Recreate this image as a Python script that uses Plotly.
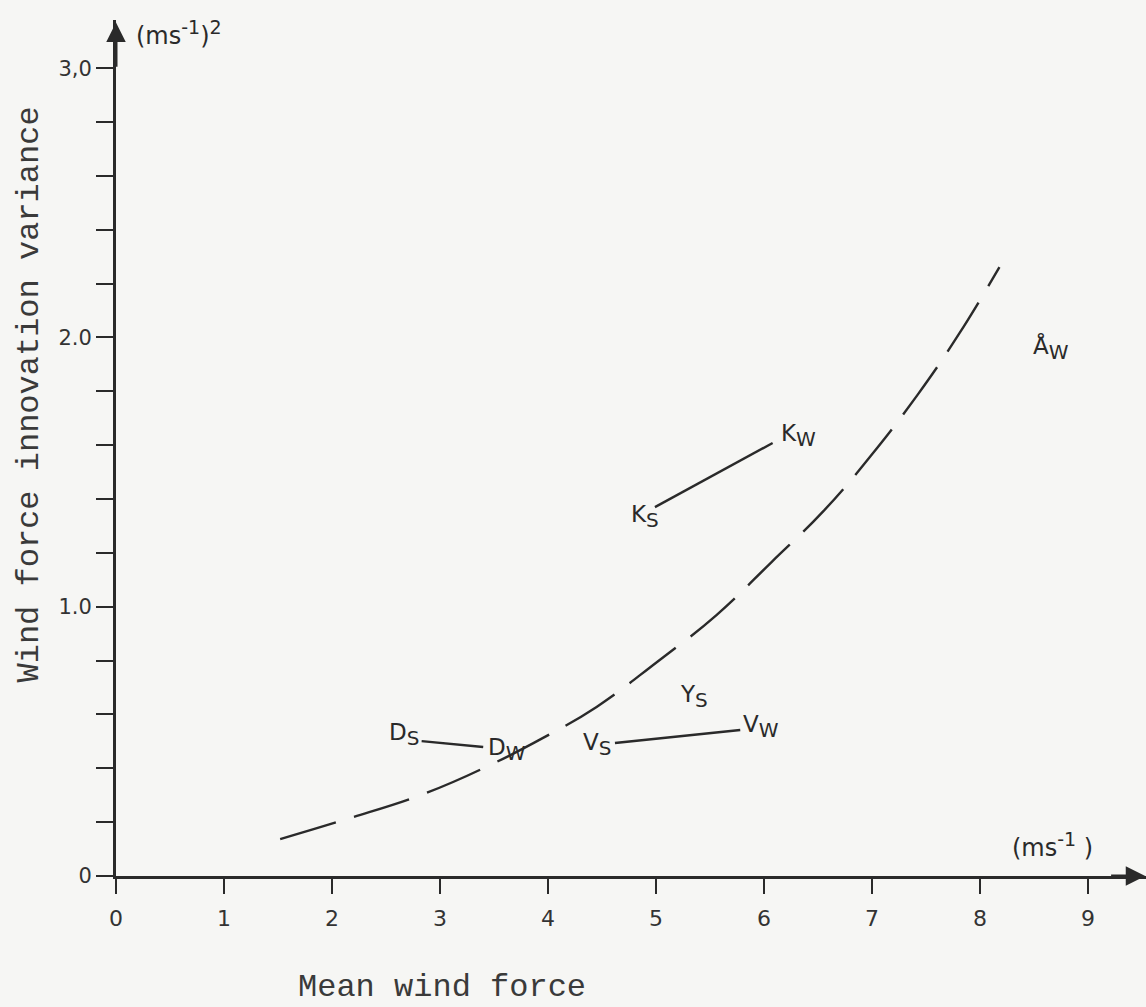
import plotly.graph_objects as go

# ---- data ----
curve_x = [1.52, 2.14, 2.87, 3.52, 3.95, 4.45, 5.01, 5.56, 6.07, 6.55, 6.98, 7.42, 7.81, 8.18]
curve_y = [0.137, 0.212, 0.308, 0.423, 0.512, 0.628, 0.795, 0.969, 1.166, 1.355, 1.556, 1.786, 2.016, 2.261]

# station pairs (summer -> winter) connecting segments
d_seg_x = [2.83, 3.40]
d_seg_y = [0.501, 0.479]
v_seg_x = [4.62, 5.78]
v_seg_y = [0.494, 0.542]
k_seg_x = [4.99, 6.08]
k_seg_y = [1.370, 1.608]

# labels
label_main = ["D", "D", "V", "V", "Y", "K", "K", "Å"]
label_sub = ["S", "W", "S", "W", "S", "S", "W", "W"]
label_x = [2.67, 3.62, 4.45, 5.97, 5.35, 4.90, 6.32, 8.66]
label_y = [0.525, 0.470, 0.488, 0.555, 0.667, 1.335, 1.636, 1.96]

x_ticks = [0, 1, 2, 3, 4, 5, 6, 7, 8, 9]
x_tick_labels = ["0", "1", "2", "3", "4", "5", "6", "7", "8", "9"]
y_ticks = [round(0.2 * i, 1) for i in range(16)]
y_tick_labels = {0.0: "0", 1.0: "1.0", 2.0: "2.0", 3.0: "3,0"}

ink = "#2a2a2a"
bg = "#f6f6f4"

fig = go.Figure()

fig.add_trace(go.Scatter(
    x=curve_x, y=curve_y, mode="lines",
    line=dict(color=ink, width=2.4, dash="58px,19px", shape="spline", smoothing=1.2),
    hoverinfo="skip", showlegend=False))

for sx, sy in [(d_seg_x, d_seg_y), (v_seg_x, v_seg_y), (k_seg_x, k_seg_y)]:
    fig.add_trace(go.Scatter(x=sx, y=sy, mode="lines",
                             line=dict(color=ink, width=2.4),
                             hoverinfo="skip", showlegend=False))

lab_font = dict(family="DejaVu Sans", size=23, color=ink)
for m, s, lx, ly in zip(label_main, label_sub, label_x, label_y):
    fig.add_annotation(
        x=lx, y=ly, xref="x", yref="y", showarrow=False,
        text=f"{m}<sub><span style='font-size:20px'>{s}</span></sub>",
        font=lab_font, xanchor="center", yanchor="middle")

# units
unit_font = dict(family="DejaVu Sans", size=24, color=ink)
fig.add_annotation(x=0.17, y=3.13, xref="x", yref="y", showarrow=False,
                   text="(ms<sup><span style='font-size:19px'>-1</span></sup>)<sup><span style='font-size:19px'>2</span></sup>",
                   xanchor="left", yanchor="middle", font=unit_font)
fig.add_annotation(x=8.28, y=0.115, xref="x", yref="y", showarrow=False,
                   text="(ms<sup><span style='font-size:19px'>-1</span></sup> )",
                   xanchor="left", yanchor="middle", font=unit_font)

# axis titles
fig.add_annotation(x=1.67, y=-0.13, xref="x", yref="paper", showarrow=False,
                   text="Mean wind force", xanchor="left", yanchor="middle",
                   font=dict(family="Liberation Mono", size=32, color="#3a3a3a"))
fig.add_annotation(x=-0.084, y=1.79, xref="paper", yref="y", showarrow=False,
                   text="Wind force innovation variance", textangle=-90,
                   xanchor="center", yanchor="middle",
                   font=dict(family="Liberation Mono", size=32, color="#3a3a3a"))

# axis arrows
fig.add_annotation(x=0, y=3.17, ax=0, ay=3.0, xref="x", yref="y", axref="x", ayref="y",
                   showarrow=True, arrowhead=2, arrowsize=1.3, arrowwidth=3, arrowcolor=ink, text="")
fig.add_annotation(x=9.53, y=0, ax=9.2, ay=0, xref="x", yref="y", axref="x", ayref="y",
                   showarrow=True, arrowhead=2, arrowsize=1.3, arrowwidth=3, arrowcolor=ink, text="")

fig.update_xaxes(
    range=[0, 9.537], showgrid=False, zeroline=False,
    showline=True, linecolor=ink, linewidth=3,
    ticks="outside", ticklen=15, tickwidth=2, tickcolor=ink,
    tickvals=x_ticks, ticktext=x_tick_labels, ticklabelstandoff=6,
    tickfont=dict(family="DejaVu Sans", size=22, color="#333"))
fig.update_yaxes(
    range=[0, 3.179], showgrid=False, zeroline=False,
    showline=True, linecolor=ink, linewidth=3,
    ticks="outside", ticklen=17, tickwidth=2, tickcolor=ink,
    tickvals=y_ticks, ticktext=[y_tick_labels.get(v, "") for v in y_ticks],
    tickfont=dict(family="DejaVu Sans", size=21, color="#333"))

fig.update_layout(
    width=1146, height=1007,
    margin=dict(l=116, r=0, t=20, b=131),
    paper_bgcolor=bg, plot_bgcolor=bg,
    showlegend=False)

fig.write_html("out.html", config={"displayModeBar": False},
               post_script="document.body.style.margin='0';document.body.style.overflow='hidden';")
